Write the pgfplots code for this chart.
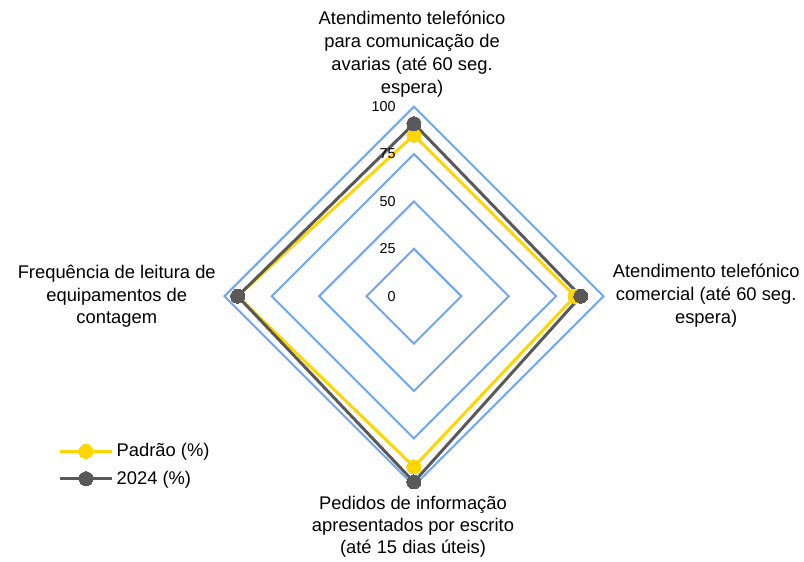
\documentclass[border=0pt]{standalone}
\usepackage{fontspec}
\setmainfont{Liberation Sans}
\usepackage{pgfplots}
\pgfplotsset{compat=1.18}
\definecolor{gridblue}{RGB}{110,165,245}
\definecolor{padrao}{RGB}{255,214,0}
\definecolor{ano}{RGB}{89,89,89}
\tikzset{tick lbl/.style={anchor=east, inner sep=0pt, font=\fontsize{10.8}{12}\selectfont}}

\begin{document}
\begin{tikzpicture}
\begin{axis}[
  x=1.425pt, y=1.425pt,
  xmin=-218.4, xmax=204.7, ymin=-136.8, ymax=156.3,
  hide axis, clip=false,
  legend style={at={(0.072,0.163)}, anchor=west, draw=none, fill=none,
    font=\fontsize{13.8}{16}\selectfont, row sep=5pt, inner sep=0pt,
    cells={anchor=west}},
  legend image code/.code={\draw[mark repeat=2,mark phase=2,#1]
    plot coordinates {(0cm,0cm) (0.7cm,0cm) (1.4cm,0cm)};},
]
\path (rel axis cs:0,0) rectangle (rel axis cs:1,1);

% grade em losango
\addplot[gridblue, line width=1.5pt, line join=miter, forget plot] coordinates {(0,25) (25,0) (0,-25) (-25,0) (0,25) (25,0)};
\addplot[gridblue, line width=1.5pt, line join=miter, forget plot] coordinates {(0,50) (50,0) (0,-50) (-50,0) (0,50) (50,0)};
\addplot[gridblue, line width=1.5pt, line join=miter, forget plot] coordinates {(0,75) (75,0) (0,-75) (-75,0) (0,75) (75,0)};
\addplot[gridblue, line width=1.5pt, line join=miter, forget plot] coordinates {(0,100) (100,0) (0,-100) (-100,0) (0,100) (100,0)};

% topo, direita, baixo, esquerda
\addplot[padrao, line width=2.25pt, mark=*, mark size=5.25pt,
  mark options={fill=padrao, draw=padrao, line width=0pt}]
  coordinates {(0,85) (85,0) (0,-90) (-93,0) (0,85)};
\addlegendentry{Padrão (\%)}
\addplot[ano, line width=2.25pt, mark=*, mark size=5.25pt,
  mark options={fill=ano, draw=ano, line width=0pt}]
  coordinates {(0,91) (88,0) (0,-98) (-93,0) (0,91)};
\addlegendentry{2024 (\%)}

\node[tick lbl] at (axis cs:-9.5,0) {0};
\node[tick lbl] at (axis cs:-9.5,25) {25};
\node[tick lbl] at (axis cs:-9.5,50) {50};
\node[tick lbl] at (axis cs:-9.5,75) {75};
\node[tick lbl] at (axis cs:-9.5,100) {100};

\node[align=center, font=\fontsize{13.8}{17.25}\selectfont] at (axis cs:-1,127.6)
  {Atendimento telefónico\\para comunicação de\\avarias (até 60 seg.\\espera)};
\node[align=center, font=\fontsize{13.8}{17.25}\selectfont] at (axis cs:154.2,0.5)
  {Atendimento telefónico\\comercial (até 60 seg.\\espera)};
\node[align=center, font=\fontsize{13.8}{16.5}\selectfont] at (axis cs:-0.5,-121.6)
  {Pedidos de informação\\apresentados por escrito\\(até 15 dias úteis)};
\node[align=center, font=\fontsize{13.8}{17.25}\selectfont] at (axis cs:-156.8,0)
  {Frequência de leitura de\\equipamentos de\\contagem};
\end{axis}
\end{tikzpicture}
\end{document}
